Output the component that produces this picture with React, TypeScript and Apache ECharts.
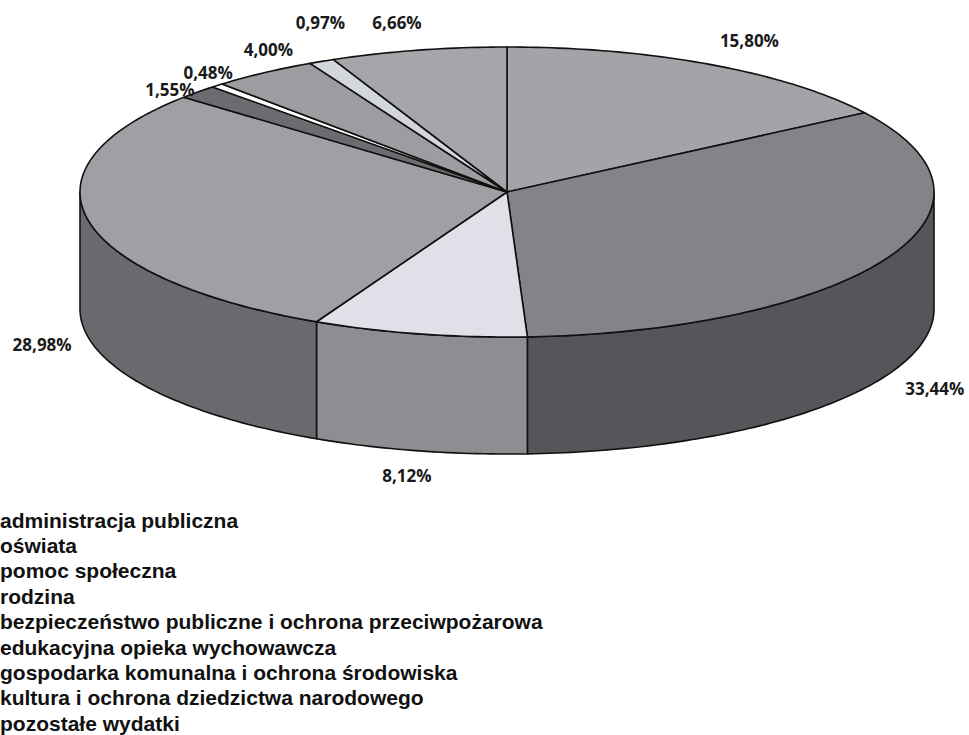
import React, { useEffect, useRef } from "react";
import * as echarts from "echarts";

const categories = [
  "administracja publiczna",
  "oświata",
  "pomoc społeczna",
  "rodzina",
  "bezpieczeństwo publiczne i ochrona przeciwpożarowa",
  "edukacyjna opieka wychowawcza",
  "gospodarka komunalna i ochrona środowiska",
  "kultura i ochrona dziedzictwa narodowego",
  "pozostałe wydatki",
];
const values = [15.8, 33.44, 8.12, 28.98, 1.55, 0.48, 4.0, 0.97, 6.66];

const topColors = ["#a4a4a8", "#848488", "#dfe0e8", "#a0a0a4", "#6c6c70", "#ffffff", "#9d9da1", "#d4d6de", "#a6a6aa"];
const sideColors = ["#7a7a7e", "#55555a", "#8e8e92", "#6a6a6e", "#48484c", "#cccccc", "#707074", "#a8a8ae", "#7c7c80"];
// small label nudges (layout only)
const labelNudge = [[20, -2], [12, -5], [-4, -2], [-7, -8], [1, 15], [18, 5], [27, -3], [16, -16], [-13, -3]];

const CX = 507, CY = 192, RX = 427, RY = 145, DEPTH = 117;

export default function App() {
  const ref = useRef<HTMLDivElement>(null);
  useEffect(() => {
    if (!ref.current) return;
    const chart = echarts.init(ref.current, null, { renderer: "svg" });
    const total = values.reduce((a, b) => a + b, 0);
    let cum = 0;
    const data = values.map((v) => {
      const s = cum / total;
      cum += v;
      return [v, s, cum / total];
    });
    const pt = (a: number, dy: number) => [CX + RX * Math.sin(a), CY - RY * Math.cos(a) + dy];
    const arc = (a0: number, a1: number, dy: number) => {
      const pts: number[][] = [];
      const n = Math.max(2, Math.ceil(((a1 - a0) * 180) / Math.PI));
      for (let k = 0; k <= n; k++) pts.push(pt(a0 + ((a1 - a0) * k) / n, dy));
      return pts;
    };
    const renderItem = (params: any, api: any) => {
      const i = params.dataIndex;
      const a0 = api.value(1) * 2 * Math.PI;
      const a1 = api.value(2) * 2 * Math.PI;
      const children: any[] = [];
      const w0 = Math.max(a0, Math.PI / 2);
      const w1 = Math.min(a1, (3 * Math.PI) / 2);
      if (w1 > w0) {
        const pts = arc(w0, w1, 0).concat(arc(w0, w1, DEPTH).reverse());
        children.push({
          type: "polygon",
          shape: { points: pts },
          style: { fill: sideColors[i], stroke: "#111", lineWidth: 1.6, lineJoin: "round" },
        });
      }
      children.push({
        type: "polygon",
        shape: { points: [[CX, CY]].concat(arc(a0, a1, 0)) },
        style: { fill: topColors[i], stroke: "#111", lineWidth: 1.6, lineJoin: "round" },
      });
      const m = (a0 + a1) / 2;
      const s = Math.sin(m), c = Math.cos(m);
      let lx = CX + (RX + 40) * s;
      let ly = c >= 0 ? CY - (RY + 25) * c : CY - (RY + 15) * c + DEPTH + 12;
      lx += labelNudge[i][0];
      ly += labelNudge[i][1];
      children.push({
        type: "text",
        x: lx,
        y: ly,
        z2: 10,
        style: {
          text: api.value(0).toFixed(2).replace(".", ",") + "%",
          font: "bold 17px 'Open Sans'",
          fill: "#1a1a1a",
          align: "center",
          verticalAlign: "middle",
        },
      });
      return { type: "group", children };
    };
    chart.setOption({
      animation: false,
      backgroundColor: "#ffffff",
      series: [
        {
          type: "custom",
          coordinateSystem: "none",
          renderItem,
          data,
          silent: true,
        },
      ],
      graphic: categories.map((c, i) => ({
        type: "text",
        x: 0,
        y: 520 + i * 25.4,
        style: {
          text: c,
          font: "bold 21px 'Liberation Sans'",
          fill: "#111",
          verticalAlign: "middle",
        },
      })),
    });
    return () => chart.dispose();
  }, []);
  return <div ref={ref} style={{ position: "fixed", left: 0, top: 0, width: 969, height: 735 }} />;
}
